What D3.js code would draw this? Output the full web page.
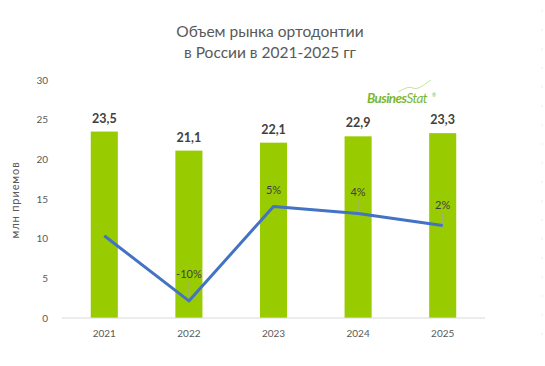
<!DOCTYPE html>
<html>
<head>
<meta charset="utf-8">
<script src="https://cdn.jsdelivr.net/npm/d3@7"></script>
<style>
  body { margin: 0; background: #fff; }
  svg { font-family: Lato, "Open Sans", sans-serif; }
</style>
</head>
<body>
<div id="chart"></div>
<script>
// данные
const years = ['2021', '2022', '2023', '2024', '2025'];
const volume = [23.5, 21.1, 22.1, 22.9, 23.3];        // млн приемов
const growth = [0.1, -10.2, 4.7, 3.6, 1.7];           // % к пред. году
const growthLabels = ['', '-10%', '5%', '4%', '2%'];
const yTicks = [0, 5, 10, 15, 20, 25, 30];

const width = 545;
const height = 366;
const margin = { top: 80, right: 60, bottom: 48, left: 62 };

const svg = d3.select('#chart').append('svg')
  .attr('width', width)
  .attr('height', height);

const x = d3.scaleBand()
  .domain(years)
  .range([margin.left, width - margin.right])
  .paddingInner(0.68)
  .paddingOuter(0.34);

const y = d3.scaleLinear()
  .domain([0, 30])
  .range([height - margin.bottom, margin.top]);

// вторая (скрытая) ось для процентов
const y2 = d3.scaleLinear()
  .domain([-12.9, 24.7])
  .range([height - margin.bottom, margin.top]);

// title
svg.append('text')
  .attr('x', 270).attr('y', 37)
  .attr('text-anchor', 'middle')
  .attr('font-size', 15.5)
  .attr('fill', '#595959')
  .text('Объем рынка ортодонтии');
svg.append('text')
  .attr('x', 270).attr('y', 58)
  .attr('text-anchor', 'middle')
  .attr('font-size', 15.5)
  .attr('fill', '#595959')
  .text('в России в 2021-2025 гг');

// y axis labels
svg.append('g').selectAll('text')
  .data(yTicks)
  .enter().append('text')
  .attr('x', 48)
  .attr('y', (d) => y(d))
  .attr('dy', '0.35em')
  .attr('text-anchor', 'end')
  .attr('font-size', 10)
  .attr('fill', '#595959')
  .text((d) => d);

svg.append('text')
  .attr('transform', 'translate(19,' + 200 + ') rotate(-90)')
  .attr('text-anchor', 'middle')
  .attr('font-size', 11)
  .attr('fill', '#595959')
  .attr('letter-spacing', 0.9)
  .text('млн  приемов');

// bars
svg.append('g').selectAll('rect')
  .data(volume)
  .enter().append('rect')
  .attr('x', (d, i) => x(years[i]))
  .attr('y', (d) => y(d))
  .attr('width', x.bandwidth())
  .attr('height', (d) => y(0) - y(d))
  .attr('fill', '#99cc00');

// bar labels
svg.append('g').selectAll('text')
  .data(volume)
  .enter().append('text')
  .attr('x', (d, i) => x(years[i]) + x.bandwidth() / 2)
  .attr('y', (d) => y(d) - 9)
  .attr('text-anchor', 'middle')
  .attr('font-size', 12.5)
  .attr('font-weight', 'bold')
  .attr('fill', '#404040')
  .text((d) => d3.format('.1f')(d).replace('.', ','));

// x axis
svg.append('line')
  .attr('x1', margin.left).attr('x2', width - margin.right)
  .attr('y1', y(0)).attr('y2', y(0))
  .attr('stroke', '#d9d9d9')
  .attr('stroke-width', 1);

svg.append('g').selectAll('text')
  .data(years)
  .enter().append('text')
  .attr('x', (d) => x(d) + x.bandwidth() / 2)
  .attr('y', y(0) + 15)
  .attr('dy', '0.35em')
  .attr('text-anchor', 'middle')
  .attr('font-size', 10)
  .attr('fill', '#595959')
  .text((d) => d);

// growth line
const line = d3.line()
  .x((d, i) => x(years[i]) + x.bandwidth() / 2)
  .y((d) => y2(d));

// leader lines + labels (расстояние подписи над точкой, px)
const labelLift = [0, 27, 16, 21, 20];
const lbl = svg.append('g');
growth.forEach((g, i) => {
  if (!growthLabels[i]) return;
  const cx = x(years[i]) + x.bandwidth() / 2;
  const py = y2(g);
  const lift = labelLift[i];
  lbl.append('line')
    .attr('x1', cx).attr('x2', cx)
    .attr('y1', py).attr('y2', py - lift + 7)
    .attr('stroke', '#a6a6a6')
    .attr('stroke-width', 0.8);
  lbl.append('text')
    .attr('x', cx)
    .attr('y', py - lift)
    .attr('dy', '0.35em')
    .attr('text-anchor', 'middle')
    .attr('font-size', 11)
    .attr('fill', '#404040')
    .text(growthLabels[i]);
});

svg.append('path')
  .datum(growth)
  .attr('d', line)
  .attr('fill', 'none')
  .attr('stroke', '#4472c4')
  .attr('stroke-width', 3)
  .attr('stroke-linejoin', 'round');

// логотип
const logo = svg.append('g');
logo.append('path')
  .attr('d', 'M398,92 C404,89 408,86 413,88 C418,90 422,86 431,80')
  .attr('fill', 'none')
  .attr('stroke', '#b5d98a')
  .attr('stroke-width', 0.8);
const lt = logo.append('text')
  .attr('x', 367).attr('y', 103)
  .attr('font-size', 13.5)
  .attr('font-style', 'italic')
  .attr('font-weight', 'bold')
  .attr('fill', '#7ab82e')
  .attr('letter-spacing', -0.6);
lt.append('tspan').text('Busines');
lt.append('tspan').attr('font-weight', 'normal').text('Stat');
logo.append('text')
  .attr('x', 432).attr('y', 97)
  .attr('font-size', 5)
  .attr('fill', '#7ab82e')
  .text('®');

// тонкая пунктирная граница справа
svg.append('line')
  .attr('x1', 542).attr('x2', 542)
  .attr('y1', 10).attr('y2', 345)
  .attr('stroke', '#ececec')
  .attr('stroke-dasharray', '2,17');
</script>
</body>
</html>
